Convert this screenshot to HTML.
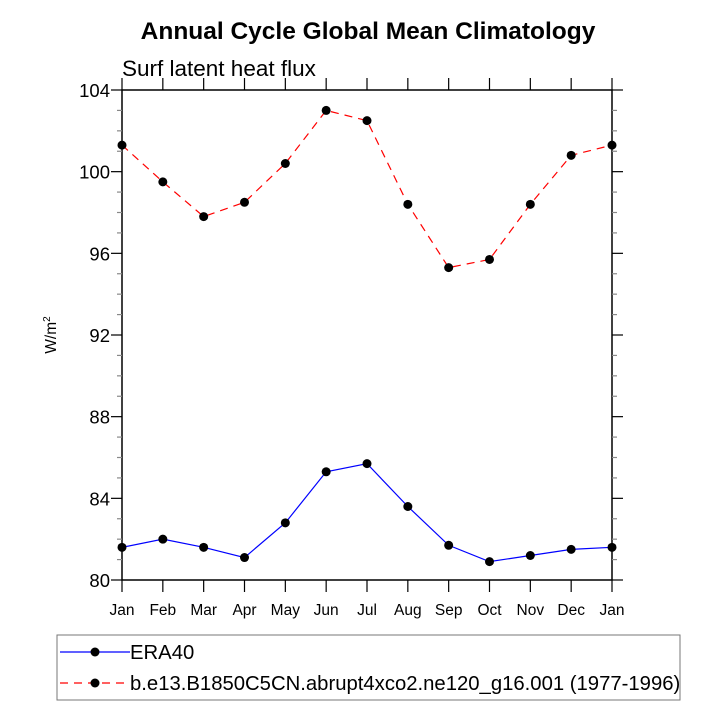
<!DOCTYPE html>
<html><head><meta charset="utf-8"><style>
body{margin:0;background:#fff}
svg text{font-family:"Liberation Sans",sans-serif}
</style></head><body>
<svg id="c" width="720" height="720" xmlns="http://www.w3.org/2000/svg">
<text x="368" y="39" text-anchor="middle" font-size="24.5" font-weight="bold">Annual Cycle Global Mean Climatology</text>
<text x="122" y="76" font-size="22.5">Surf latent heat flux</text>
<text transform="translate(56,335) rotate(-90)" text-anchor="middle" font-size="15.5">W/m<tspan font-size="10" dy="-6">2</tspan></text>
<g id="axes"></g><g id="series"></g>
<rect x="57" y="635" width="623" height="65" fill="none" stroke="#777" stroke-width="1"/>
<g>
<line x1="60" y1="652" x2="130" y2="652" stroke="#00f" stroke-width="1.2"/><circle cx="95" cy="652" r="4.5" fill="#000"/>
<text x="130" y="659" font-size="20.3">ERA40</text></g>
<g>
<line x1="60" y1="683" x2="130" y2="683" stroke="#f00" stroke-width="1.2" stroke-dasharray="8,6"/><circle cx="95" cy="683" r="4.5" fill="#000"/>
<text x="130" y="690" font-size="20.3">b.e13.B1850C5CN.abrupt4xco2.ne120_g16.001 (1977-1996)</text></g>
</svg>
<script>
const months=["Jan","Feb","Mar","Apr","May","Jun","Jul","Aug","Sep","Oct","Nov","Dec","Jan"];
const era40=[81.6,82.0,81.6,81.1,82.8,85.3,85.7,83.6,81.7,80.9,81.2,81.5,81.6];
const model=[101.3,99.5,97.8,98.5,100.4,103.0,102.5,98.4,95.3,95.7,98.4,100.8,101.3];
const yTicks=[80,84,88,92,96,100,104];
const NS="http://www.w3.org/2000/svg";
const L=122,R=612,T=90,B=580,ymin=80,ymax=104;
const xs=i=>L+i*(R-L)/(months.length-1);
const ys=v=>B-(v-ymin)*(B-T)/(ymax-ymin);
function mk(p,t,a){const e=document.createElementNS(NS,t);for(const k in a)e.setAttribute(k,a[k]);p.appendChild(e);return e;}
const ax=document.getElementById('axes');
const fr=mk(ax,'rect',{x:L,y:T,width:R-L,height:B-T,fill:'none',stroke:'#000','stroke-width':1.5});


months.forEach((m,i)=>{const x=xs(i);
mk(ax,'line',{x1:x,y1:B,x2:x,y2:B+12,stroke:'#000','stroke-width':1.2});
mk(ax,'line',{x1:x,y1:T,x2:x,y2:T-12,stroke:'#000','stroke-width':1.2});
const t=mk(ax,'text',{x:x,y:B+35,'text-anchor':'middle','font-size':15.5});t.textContent=m;

});
for(let v=ymin;v<=ymax;v++){const y=ys(v);const maj=(v-ymin)%4===0;const len=maj?11:5;const c=maj?'#000':'#888';
mk(ax,'line',{x1:L,y1:y,x2:L-len,y2:y,stroke:c,'stroke-width':1.2});
mk(ax,'line',{x1:R,y1:y,x2:R+len,y2:y,stroke:c,'stroke-width':1.2});}
yTicks.forEach(v=>{const t=mk(ax,'text',{x:L-12,y:ys(v)+7,'text-anchor':'end','font-size':18.5});t.textContent=v;

});
const sg=document.getElementById('series');
function draw(d,col,dash,name){const g=mk(sg,'g',{});


const a={points:d.map((v,i)=>xs(i)+','+ys(v)).join(' '),fill:'none',stroke:col,'stroke-width':1.2};if(dash)a['stroke-dasharray']=dash;
mk(g,'polyline',a);
d.forEach((v,i)=>{const c=mk(g,'circle',{cx:xs(i),cy:ys(v),r:4.5,fill:'#000'});

});}
draw(era40,'#00f',null,'series-era40');
draw(model,'#f00','8,6','series-model');
</script>
</body></html>
